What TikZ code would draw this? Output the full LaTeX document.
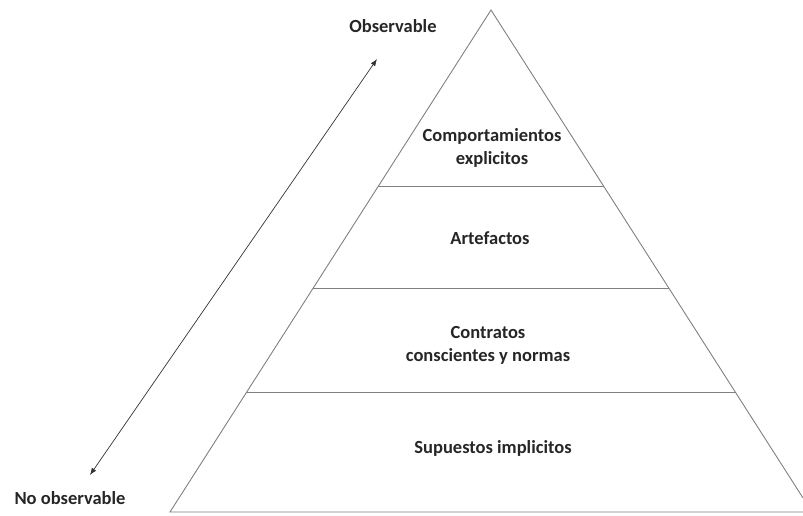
\documentclass[tikz,border=0pt]{standalone}
\usepackage{fontspec}
\setmainfont{Carlito}
\usetikzlibrary{calc,arrows.meta}
\begin{document}
\begin{tikzpicture}[x=1pt,y=-1pt,
  edge/.style={draw,color=black!50,line width=0.9pt},
  label/.style={font=\fontsize{18.5}{23}\selectfont\bfseries,text=black!85,align=center}]
\useasboundingbox (0,0) rectangle (803,516);
\coordinate (a) at (491,10);
\coordinate (l) at (170,512);
\coordinate (r) at (812,512);
\coordinate (l1) at ($(a)!0.3506!(l)$);
\coordinate (r1) at ($(a)!0.3506!(r)$);
\coordinate (l2) at ($(a)!0.5538!(l)$);
\coordinate (r2) at ($(a)!0.5538!(r)$);
\coordinate (l3) at ($(a)!0.7610!(l)$);
\coordinate (r3) at ($(a)!0.7610!(r)$);
\path[edge] (a) -- (l) -- (r) -- cycle;
\path[edge] (l1) -- (r1);
\path[edge] (l2) -- (r2);
\path[edge] (l3) -- (r3);
\node[label] (1) at (492,148) {Comportamientos\\explicitos};
\node[label] (2) at (490,238) {Artefactos};
\node[label] (3) at (488,345) {Contratos\\conscientes y normas};
\node[label] (4) at (493,448) {Supuestos implicitos};
\node[label] (5) at (393,26) {Observable};
\node[label] (6) at (70,498) {No observable};
\coordinate (t) at (377,59);
\coordinate (b) at (90,475);
\path[draw,line width=0.7pt,black!80,{Latex[length=7pt]}-{Latex[length=7pt]}] (b) -- (t);
\end{tikzpicture}
\end{document}
